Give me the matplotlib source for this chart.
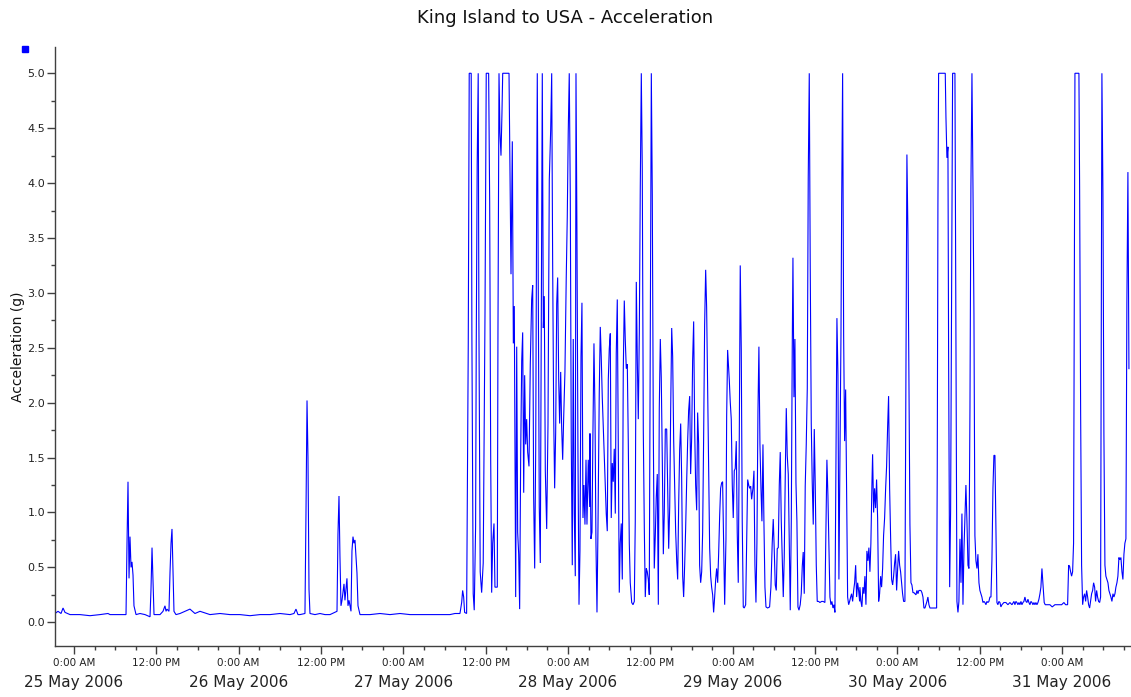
import numpy as np
import matplotlib
matplotlib.use("Agg")
import matplotlib.pyplot as plt
from matplotlib.lines import Line2D
from matplotlib.ticker import FixedLocator, MultipleLocator

# ---------------- data (hours since 25 May 2006 0:00, acceleration in g) -------------
quiet_h = [-2.77, -2.33, -1.89, -1.60, -1.31, -0.58, 0.87, 2.33, 3.79, 4.95, 5.25, 6.41, 7.58, 7.72, 7.87,
           8.02, 8.16, 8.31, 8.45, 8.60, 8.74, 9.04, 9.62, 10.35, 11.08, 11.22, 11.37, 11.51, 11.66, 12.53,
           12.97, 13.26, 13.41, 13.55, 13.84, 13.99, 14.14, 14.28, 14.43, 14.57, 14.86, 15.45, 16.18, 16.90,
           17.63, 18.36, 19.82, 21.28, 22.73, 24.19, 25.65, 27.11, 28.56, 30.02, 31.48, 32.06, 32.35, 32.64,
           32.93, 33.66, 33.81, 33.96, 34.10, 34.25, 34.39, 35.12, 35.85, 36.58, 37.31, 38.33, 38.47, 38.62,
           38.76, 38.91, 39.06, 39.35, 39.49, 39.64, 39.78, 39.93, 40.08, 40.37, 40.51, 40.66, 40.80, 40.95,
           41.10, 41.24, 41.39, 41.68, 43.14, 44.59, 46.05, 47.51, 48.97, 50.42, 51.88, 53.34, 54.79]
quiet_g = [0.08, 0.10, 0.08, 0.13, 0.09, 0.07, 0.07, 0.06, 0.07, 0.08, 0.07, 0.07, 0.07, 0.70, 1.28,
           0.40, 0.78, 0.50, 0.55, 0.43, 0.15, 0.07, 0.08, 0.07, 0.05, 0.30, 0.68, 0.40, 0.07, 0.07,
           0.10, 0.15, 0.10, 0.12, 0.10, 0.45, 0.72, 0.85, 0.45, 0.10, 0.07, 0.08, 0.10, 0.12,
           0.08, 0.10, 0.07, 0.08, 0.07, 0.07, 0.06, 0.07, 0.07, 0.08, 0.07, 0.08, 0.12, 0.07,
           0.07, 0.08, 1.00, 2.02, 1.50, 0.30, 0.08, 0.07, 0.08, 0.07, 0.07, 0.10, 0.80, 1.15,
           0.60, 0.15, 0.20, 0.35, 0.20, 0.30, 0.40, 0.15, 0.20, 0.10, 0.65, 0.78, 0.72, 0.75,
           0.60, 0.45, 0.15, 0.07, 0.07, 0.08, 0.07, 0.08, 0.07, 0.07, 0.07, 0.07, 0.07]

may27_h = [55.52, 56.25, 56.50, 56.64, 56.79, 56.93, 57.22, 57.46, 57.60, 57.89, 57.99, 58.18, 58.33, 58.53,
           58.62, 58.76, 58.91, 59.01, 59.20, 59.41, 59.64, 59.90, 60.08, 60.43, 60.58, 60.73, 60.87, 61.02,
           61.21, 61.35, 61.69, 61.79, 61.94, 62.08, 62.23, 62.37, 62.48, 63.40, 63.50, 63.69, 63.88, 64.03,
           64.17, 64.37, 64.52, 64.66, 64.81, 64.95, 65.10, 65.25, 65.39, 65.54, 65.68, 65.83, 65.97, 66.12,
           66.31, 66.50, 66.70, 66.85, 66.99, 67.14, 67.29, 67.43, 67.52, 67.67, 67.81, 67.96, 68.10, 68.25,
           68.40, 68.54, 68.69, 68.89, 69.08, 69.27, 69.47, 69.62, 69.76, 69.91, 70.05, 70.20, 70.35, 70.49,
           70.64, 70.78, 70.93, 71.07, 71.22, 71.36, 71.55, 71.74, 71.89, 72.03, 72.18, 72.33, 72.47, 72.62,
           72.76, 72.91, 73.06, 73.16, 73.30, 73.45, 73.60, 73.74, 73.89, 74.03, 74.18, 74.32, 74.47, 74.62,
           74.76, 74.95, 75.16]
may27_g = [0.08, 0.08, 0.18, 0.29, 0.23, 0.09, 0.08, 2.54, 5.0, 5.0, 2.60, 0.26, 0.11, 0.87,
           2.48, 4.17, 5.0, 2.74, 0.46, 0.27, 0.54, 2.82, 5.0, 5.0, 3.83, 1.48, 0.27, 0.72,
           0.90, 0.32, 0.32, 2.66, 5.0, 4.46, 4.25, 4.63, 5.0, 5.0, 4.40, 3.17, 4.38, 2.54,
           2.88, 0.23, 2.51, 0.82, 0.62, 0.12, 1.53, 2.38, 2.64, 1.18, 2.25, 1.62, 1.85, 1.55,
           1.42, 2.35, 2.94, 3.07, 1.15, 0.49, 1.58, 3.87, 5.0, 3.01, 1.05, 0.54, 2.77, 5.0,
           2.68, 2.97, 1.38, 0.85, 1.80, 4.03, 4.48, 5.0, 3.27, 1.88, 1.22, 1.73, 2.90, 3.14,
           2.21, 1.81, 2.28, 1.78, 1.48, 1.85, 2.28, 3.14, 3.69, 4.46, 5.0, 3.88, 1.65, 0.52,
           2.58, 0.99, 0.42, 5.0, 3.54, 1.52, 0.16, 0.65, 2.42, 2.91, 0.95, 1.25, 0.89, 1.48,
           0.89, 1.48, 1.05]

may28_h = [75.20, 75.34, 75.49, 75.63, 75.78, 75.93, 76.07, 76.22, 76.36, 76.55, 76.70, 76.84, 76.99, 77.14,
           77.28, 77.43, 77.57, 77.72, 77.87, 78.01, 78.16, 78.30, 78.45, 78.59, 78.74, 78.89, 79.03, 79.18,
           79.32, 79.47, 79.61, 79.76, 79.91, 80.05, 80.20, 80.34, 80.49, 80.64, 80.78, 80.93, 81.07, 81.28,
           81.47, 81.66, 81.80, 81.95, 82.10, 82.24, 82.39, 82.53, 82.68, 82.82, 82.97, 83.12, 83.26, 83.41,
           83.55, 83.70, 83.84, 83.99, 84.14, 84.28, 84.43, 84.57, 84.72, 84.86, 85.01, 85.16, 85.30, 85.45,
           85.59, 85.74, 85.89, 86.03, 86.18, 86.38, 86.53, 86.67, 86.82, 86.96, 87.11, 87.25, 87.40, 87.54,
           87.69, 87.84, 87.98, 88.13, 88.27, 88.42, 88.56, 88.71, 88.85, 89.00, 89.14, 89.29, 89.44, 89.58,
           89.73, 89.87, 90.02, 90.16, 90.31, 90.46, 90.60, 90.75, 90.89, 91.04, 91.18, 91.33, 91.48, 91.62,
           91.77, 91.91, 92.06, 92.20, 92.35, 92.50, 92.64, 92.79, 92.93, 93.08, 93.22, 93.37, 93.52, 93.66,
           93.81, 93.95, 94.10, 94.24, 94.39, 94.53, 94.68, 94.83]
may28_g = [1.72, 0.76, 0.82, 1.72, 2.54, 1.91, 0.72, 0.09, 0.83, 2.08, 2.69, 2.42, 2.05, 1.78,
           1.52, 1.24, 0.99, 0.83, 2.21, 2.49, 2.63, 0.95, 1.45, 1.28, 1.58, 0.99, 2.45, 2.94,
           1.60, 0.27, 0.72, 0.90, 0.39, 2.28, 2.93, 2.58, 2.31, 2.35, 1.65, 0.72, 0.36, 0.18,
           0.16, 0.19, 0.92, 3.10, 2.38, 1.85, 2.64, 3.95, 5.0, 4.13, 1.75, 0.85, 0.23, 0.49,
           0.46, 0.39, 0.25, 2.61, 5.0, 3.90, 1.75, 0.49, 0.79, 1.14, 1.35, 0.16, 1.95, 2.58,
           2.23, 1.48, 0.62, 0.99, 1.76, 1.76, 1.22, 0.67, 1.05, 1.93, 2.68, 2.42, 1.65, 1.25,
           0.82, 0.56, 0.39, 1.09, 1.57, 1.81, 1.32, 0.42, 0.23, 0.52, 0.85, 1.28, 1.66, 1.93,
           2.06, 1.35, 1.68, 2.38, 2.74, 1.75, 1.25, 1.02, 1.91, 1.62, 0.52, 0.36, 0.46, 0.82,
           1.72, 2.71, 3.21, 2.87, 2.16, 1.38, 0.68, 0.42, 0.32, 0.25, 0.09, 0.23, 0.39, 0.49,
           0.36, 0.62, 0.97, 1.22, 1.27, 1.28, 0.72, 0.16]

may29_h = [95.02, 95.12, 95.26, 95.35, 95.50, 95.64, 95.79, 95.94, 96.08, 96.23, 96.37, 96.52, 96.66, 96.81,
           96.96, 97.10, 97.25, 97.39, 97.54, 97.68, 97.89, 98.03, 98.18, 98.33, 98.47, 98.62, 98.76, 98.95,
           99.10, 99.24, 99.39, 99.53, 99.68, 99.82, 99.97, 100.12, 100.26, 100.41, 100.55, 100.70, 100.85,
           101.09, 101.38, 101.57, 101.76, 101.91, 102.06, 102.20, 102.35, 102.49, 102.64, 102.79, 102.93,
           103.08, 103.22, 103.37, 103.51, 103.66, 103.81, 103.95, 104.10, 104.24, 104.39, 104.54, 104.68,
           104.78, 104.93, 105.07, 105.22, 105.36, 105.51, 105.66, 105.84, 105.99, 106.14, 106.28, 106.43,
           106.57, 106.72, 106.87, 107.01, 107.16, 107.30, 107.45, 107.59, 107.74, 107.89, 108.03, 108.18,
           108.32, 108.53, 108.71, 108.96, 109.19, 109.44, 109.59, 109.73, 109.88, 110.03, 110.17, 110.32,
           110.46, 110.61, 110.75, 110.90, 111.05, 111.19, 111.34, 111.48, 111.63, 111.78, 111.88, 112.02,
           112.17, 112.31, 112.46, 112.61, 112.75, 112.90, 113.04, 113.19, 113.33, 113.48, 113.63, 113.77,
           113.92, 114.06, 114.21, 114.35, 114.50]
may29_g = [0.76, 1.88, 2.48, 2.38, 2.21, 2.01, 1.85, 1.25, 0.95, 1.38, 1.40, 1.65, 0.82, 0.36,
           1.68, 3.25, 2.48, 0.92, 0.14, 0.13, 0.16, 0.72, 1.30, 1.25, 1.22, 1.24, 1.12, 1.22,
           1.38, 0.52, 0.18, 0.72, 1.91, 2.51, 1.62, 1.22, 0.92, 1.62, 0.92, 0.32, 0.14,
           0.13, 0.14, 0.32, 0.72, 0.94, 0.65, 0.34, 0.29, 0.67, 0.68, 1.25, 1.55,
           0.92, 0.59, 0.23, 0.59, 1.33, 1.95, 1.52, 1.35, 0.72, 0.11, 0.92, 2.51,
           3.32, 2.05, 2.58, 1.27, 0.92, 0.14, 0.11, 0.16, 0.26, 0.51, 0.64, 0.26,
           1.24, 1.62, 2.13, 4.05, 5.0, 3.24, 1.81, 1.28, 0.89, 1.76, 1.25, 0.52,
           0.19, 0.19, 0.18, 0.19, 0.19, 0.18, 0.82, 1.48, 1.15, 0.68, 0.23, 0.16,
           0.19, 0.13, 0.16, 0.09, 1.42, 2.77, 2.25, 0.39, 1.48, 2.61, 3.80, 5.0,
           2.61, 1.65, 2.12, 1.12, 0.23, 0.16, 0.19, 0.23, 0.26, 0.19, 0.29, 0.36,
           0.52, 0.23, 0.36, 0.29, 0.19]

may30_h = [114.54, 114.69, 114.83, 114.98, 115.13, 115.27, 115.42, 115.56, 115.71, 115.85, 116.00, 116.14,
           116.29, 116.39, 116.54, 116.68, 116.83, 116.97, 117.12, 117.27, 117.41, 117.56, 117.70, 117.85,
           117.99, 118.14, 118.29, 118.43, 118.58, 118.72, 118.87, 119.02, 119.16, 119.31, 119.45, 119.60,
           119.74, 119.89, 120.04, 120.18, 120.33, 120.47, 120.62, 120.76, 120.91, 121.10, 121.25, 121.39,
           121.54, 121.69, 121.83, 121.98, 122.12, 122.27, 122.41, 122.56, 122.71, 122.85, 123.00, 123.14,
           123.29, 123.43, 123.58, 123.73, 123.87, 124.02, 124.16, 124.31, 124.45, 124.60, 124.75, 125.23,
           125.72, 125.81, 125.91, 126.01, 126.98, 127.08, 127.22, 127.37, 127.47, 127.62, 127.76, 127.91,
           128.05, 128.39, 128.54, 128.68, 128.83, 128.97, 129.12, 129.27, 129.41, 129.56, 129.70, 129.85,
           129.99, 130.14, 130.29, 130.43, 130.58, 130.72, 130.87, 131.01, 131.16, 131.30, 131.45, 131.60,
           131.74, 131.89, 132.03, 132.18, 132.32, 132.47, 132.62, 132.76, 132.91, 133.05, 133.20, 133.34,
           133.49, 133.64, 133.78, 133.93, 134.07]
may30_g = [0.32, 0.19, 0.14, 0.32, 0.26, 0.42, 0.16, 0.65, 0.56, 0.68, 0.46, 0.72,
           1.25, 1.53, 1.00, 1.22, 1.04, 1.30, 0.95, 0.19, 0.26, 0.42, 0.32, 0.49,
           0.79, 0.95, 1.22, 1.42, 1.78, 2.06, 1.22, 0.76, 0.39, 0.34, 0.42, 0.54,
           0.62, 0.29, 0.49, 0.65, 0.52, 0.46, 0.36, 0.26, 0.19, 0.19, 2.23, 4.26,
           3.54, 2.15, 0.89, 0.36, 0.34, 0.27, 0.27, 0.26, 0.25, 0.29, 0.26, 0.29,
           0.29, 0.29, 0.27, 0.23, 0.13, 0.13, 0.16, 0.19, 0.23, 0.16, 0.13, 0.13,
           0.13, 1.35, 3.80, 5.0, 5.0, 4.60, 4.23, 4.33, 2.38, 0.32, 1.02, 3.11,
           5.0, 5.0, 2.54, 0.19, 0.09, 0.19, 0.76, 0.36, 0.99, 0.16, 0.65, 0.95,
           1.25, 0.92, 0.52, 0.49, 1.95, 3.97, 5.0, 4.03, 2.81, 0.79, 0.56, 0.49,
           0.62, 0.36, 0.29, 0.26, 0.23, 0.18, 0.19, 0.18, 0.16, 0.19, 0.18, 0.19,
           0.23, 0.23, 0.56, 1.22, 1.52]

may31_h = [134.22, 134.36, 134.51, 134.65, 134.80, 134.95, 135.09, 135.24, 135.53, 135.82, 136.11, 136.40,
           136.70, 136.99, 137.13, 137.28, 137.42, 137.57, 137.72, 137.86, 138.01, 138.15, 138.30, 138.44,
           138.59, 138.74, 138.88, 139.03, 139.17, 139.32, 139.47, 139.61, 139.76, 139.90, 140.05, 140.19,
           140.34, 140.49, 140.63, 140.78, 140.92, 141.07, 141.17, 141.26, 141.40, 141.55, 141.75, 142.23,
           142.57, 142.96, 143.44, 143.94, 144.27, 144.52, 144.81, 144.96, 145.10, 145.25, 145.39, 145.54,
           145.68, 145.78, 145.88, 146.46, 146.56, 146.71, 146.85, 147.00, 147.14, 147.29, 147.44, 147.58,
           147.73, 147.87, 148.02, 148.16, 148.31, 148.46, 148.60, 148.75, 148.89, 149.04, 149.18, 149.33,
           149.48, 149.62, 149.71, 149.81, 149.96, 150.10, 150.25, 150.39, 150.54, 150.69, 150.83, 150.98,
           151.12, 151.27, 151.42, 151.56, 151.71, 151.85, 152.00, 152.14, 152.29, 152.43, 152.58, 152.73,
           152.87, 153.02, 153.16, 153.31, 153.45, 153.60, 153.75]
may31_g = [1.52, 0.85, 0.18, 0.16, 0.19, 0.18, 0.14, 0.16, 0.18, 0.18, 0.16, 0.18,
           0.16, 0.19, 0.16, 0.19, 0.18, 0.16, 0.18, 0.16, 0.19, 0.16, 0.18, 0.19,
           0.23, 0.19, 0.18, 0.21, 0.18, 0.16, 0.19, 0.18, 0.16, 0.18, 0.16, 0.18,
           0.16, 0.18, 0.21, 0.26, 0.32, 0.49, 0.39, 0.31, 0.18, 0.16, 0.16, 0.16,
           0.14, 0.16, 0.16, 0.16, 0.18, 0.16, 0.16, 0.52, 0.51, 0.46, 0.42, 0.46,
           0.72, 2.71, 5.0, 5.0, 3.97, 1.91, 0.52, 0.16, 0.23, 0.26, 0.19, 0.29,
           0.23, 0.16, 0.13, 0.19, 0.26, 0.29, 0.36, 0.32, 0.19, 0.29, 0.23, 0.19,
           0.18, 0.23, 2.58, 5.0, 3.90, 1.72, 0.52, 0.42, 0.39, 0.36, 0.29, 0.26,
           0.23, 0.19, 0.26, 0.23, 0.26, 0.32, 0.36, 0.42, 0.59, 0.57, 0.59, 0.46,
           0.39, 0.62, 0.72, 0.76, 2.91, 4.10, 2.31]

tick_hours = [0, 12, 24, 36, 48, 60, 72, 84, 96, 108, 120, 132, 144]
tick_labels = ["0:00 AM", "12:00 PM"] * 6 + ["0:00 AM"]
date_hours = [0, 24, 48, 72, 96, 120, 144]
date_labels = ["25 May 2006", "26 May 2006", "27 May 2006", "28 May 2006",
               "29 May 2006", "30 May 2006", "31 May 2006"]
y_ticks = [0.0, 0.5, 1.0, 1.5, 2.0, 2.5, 3.0, 3.5, 4.0, 4.5, 5.0]

hours = np.concatenate([quiet_h, may27_h, may28_h, may29_h, may30_h, may31_h])
accel = np.concatenate([quiet_g, may27_g, may28_g, may29_g, may30_g, may31_g])

# ---------------- figure -------------
plt.rcParams['font.family'] = ['DejaVu Sans']
W, H = 1131, 697
fig = plt.figure(figsize=(W / 100, H / 100), dpi=100)
ax = fig.add_axes([55 / W, 1 - 646 / H, 1 - 55 / W, (646 - 46.7) / H])

ax.plot(hours, accel, color='#0000FF', lw=0.8, solid_joinstyle='miter')

ax.set_xlim(-2.77, 154.05)
ax.set_ylim(-0.216, 5.242)

for s in ['top', 'right']:
    ax.spines[s].set_visible(False)
for s in ['left', 'bottom']:
    ax.spines[s].set_color('#404040')
    ax.spines[s].set_linewidth(1.0)

ax.xaxis.set_major_locator(FixedLocator(tick_hours))
ax.set_xticklabels(tick_labels)
ax.xaxis.set_minor_locator(MultipleLocator(3))
ax.yaxis.set_major_locator(FixedLocator(y_ticks))
ax.set_yticklabels([f"{v:.1f}" for v in y_ticks])
ax.yaxis.set_minor_locator(MultipleLocator(0.25))

ax.tick_params(axis='x', which='major', length=6, width=1, color='#404040', labelsize=7.5,
               pad=3, labelcolor='#222222')
ax.tick_params(axis='x', which='minor', length=3, width=1, color='#404040')
ax.tick_params(axis='y', which='major', length=6, width=1, color='#404040', labelsize=8,
               pad=1, labelcolor='#222222')
ax.tick_params(axis='y', which='minor', length=3, width=1, color='#404040')

for h, lab in zip(date_hours, date_labels):
    ax.annotate(lab, xy=(h, 0), xycoords=('data', 'axes fraction'),
                xytext=(0, -26), textcoords='offset points',
                ha='center', va='center', fontsize=11, color='#222222', annotation_clip=False)

ax.set_ylabel("Acceleration (g)", fontsize=10, color='#111111', labelpad=2)
fig.text(0.5, 1 - 18 / H, "King Island to USA - Acceleration", ha='center', va='center',
         fontsize=13, color='#111111')

fig.add_artist(Line2D([25 / W], [1 - 49 / H], marker='s', markersize=4.5, color='#0000FF',
                      linestyle='none', transform=fig.transFigure))

fig.savefig("out.png", dpi=100)
